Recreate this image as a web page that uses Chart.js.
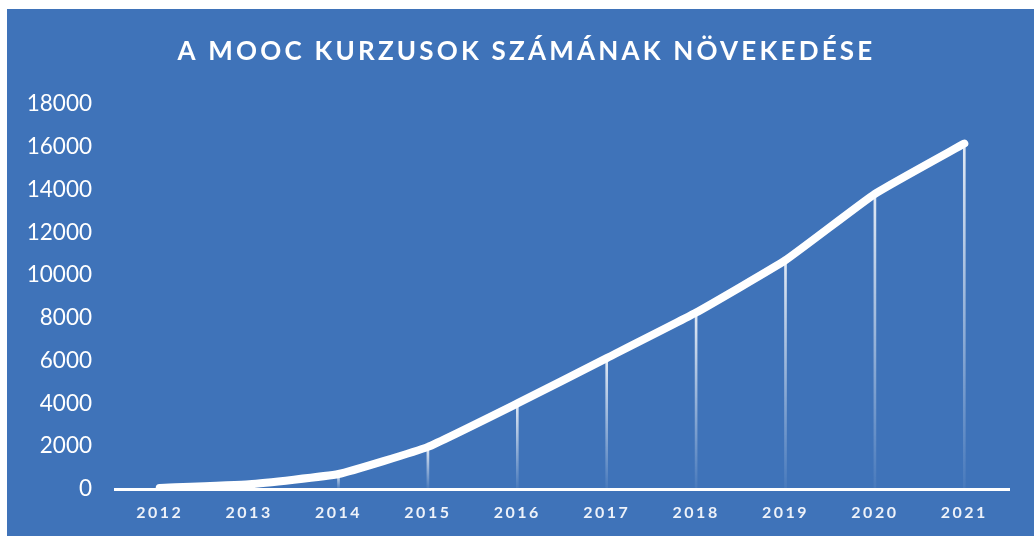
<!DOCTYPE html>
<html>
<head>
<meta charset="utf-8">
<script src="https://cdn.jsdelivr.net/npm/chart.js@4.4.0/dist/chart.umd.min.js"></script>
<style>
  html, body { margin: 0; padding: 0; background: #ffffff; }
  #wrap { position: absolute; left: 7px; top: 9px; width: 1027px; height: 527px; background: #3f73b9; }
</style>
</head>
<body>
<div id="wrap"><canvas id="moocChart" width="1027" height="527"></canvas></div>
<script>
const chartTitle = "A MOOC KURZUSOK SZÁMÁNAK NÖVEKEDÉSE";
const years = ["2012", "2013", "2014", "2015", "2016", "2017", "2018", "2019", "2020", "2021"];
const courses = [50, 220, 700, 1970, 4000, 6120, 8250, 10700, 13800, 16150];
const yTicks = [0, 2000, 4000, 6000, 8000, 10000, 12000, 14000, 16000, 18000];

const ctx = document.getElementById("moocChart").getContext("2d");

// fading white drop line for each point
function dropGradient(context) {
  const chart = context.chart;
  const area = chart.chartArea;
  if (!area) return "rgba(255,255,255,0.5)";
  const v = context.raw;
  const top = chart.scales.y.getPixelForValue(v);
  const g = chart.ctx.createLinearGradient(0, top, 0, area.bottom);
  g.addColorStop(0, "rgba(255,255,255,0.85)");
  g.addColorStop(1, "rgba(255,255,255,0.05)");
  return g;
}

// title with letter spacing, and spaced x labels
const spacingPlugin = {
  id: "spacing",
  beforeDraw(chart) {
    chart.ctx.letterSpacing = "0px";
  },
  afterDatasetsDraw(chart) {
    chart.ctx.letterSpacing = "2.5px";
  },
  afterDraw(chart) {
    const c = chart.ctx;
    c.save();
    c.letterSpacing = "3.2px";
    c.font = "bold 26px Lato";
    c.fillStyle = "#ffffff";
    c.textAlign = "center";
    c.textBaseline = "middle";
    c.fillText(chartTitle, chart.width / 2 + 6, 43);
    c.restore();
    c.letterSpacing = "0px";
  }
};

new Chart(ctx, {
  type: "line",
  data: {
    labels: years,
    datasets: [
      {
        type: "line",
        data: courses,
        borderColor: "#ffffff",
        borderWidth: 8,
        borderCapStyle: "round",
        borderJoinStyle: "round",
        tension: 0.12,
        pointRadius: 0,
        fill: false,
        order: 0
      },
      {
        type: "bar",
        data: courses,
        backgroundColor: dropGradient,
        barThickness: 2,
        order: 1
      }
    ]
  },
  options: {
    responsive: false,
    animation: false,
    layout: { padding: { top: 95, right: 25, left: 0, bottom: 0 } },
    plugins: {
      legend: { display: false },
      tooltip: { enabled: false },
      title: { display: false }
    },
    scales: {
      x: {
        offset: true,
        grid: { display: false, drawTicks: false },
        border: { display: true, color: "#ffffff", width: 3 },
        ticks: {
          z: 1,
          color: "#eef2f9",
          font: { family: "Lato", size: 16, weight: "bold" },
          padding: 14,
          maxRotation: 0
        },
        afterFit: (s) => { s.height = 47; }
      },
      y: {
        min: 0,
        max: 18000,
        afterBuildTicks: (s) => { s.ticks = yTicks.map(v => ({ value: v })); },
        grid: { display: false, drawTicks: false },
        border: { display: false },
        ticks: {
          color: "#ffffff",
          font: { family: "Lato", size: 22.5 },
          padding: 23,
          callback: (v) => String(v)
        },
        afterFit: (s) => { s.width = 108; }
      }
    }
  },
  plugins: [spacingPlugin]
});
</script>
</body>
</html>
